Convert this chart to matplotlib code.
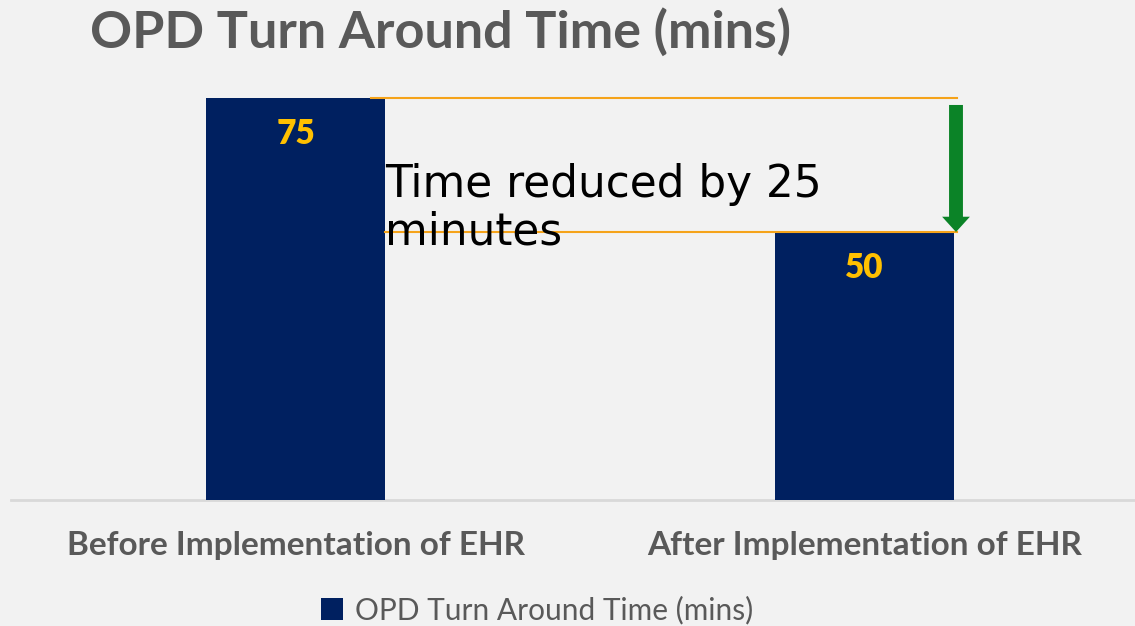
import matplotlib
matplotlib.use("Agg")
import matplotlib.pyplot as plt
from matplotlib.patches import Patch

categories = ["Before Implementation of EHR", "After Implementation of EHR"]
values = [75, 50]
series_name = "OPD Turn Around Time (mins)"
title = "OPD Turn Around Time (mins)"
note_lines = ["Time reduced by 25", "minutes"]

BG = "#F2F2F2"
NAVY = "#002060"
GOLD = "#FFC000"
GREY = "#595959"
ORANGE = "#F5A31A"
GREEN = "#0B8327"

fig = plt.figure(figsize=(11.35, 6.26), dpi=100, facecolor=BG)
W, H = 1135, 626
ax = fig.add_axes([11 / W, (H - 500) / H, (1135 - 11) / W, 430 / H])
ax.set_facecolor(BG)

x = list(range(len(categories)))
bw = 179 / 569
bars = ax.bar(x, values, width=bw, color=NAVY, zorder=3)
ax.set_xlim(-0.5, 1 + (1135 - 864.5) / 569)
ax.set_ylim(0, 430 / 5.36)

for xi, v in zip(x, values):
    ax.text(xi, v - 6.8, f"{v}", ha="center", va="center", color=GOLD,
            fontsize=24, fontweight="heavy", family="Lato", zorder=4)

# guide lines and arrow
x_end = 1 + (957 - 864.5) / 569
ax.plot([x[0] + bw / 2 - 0.025, x_end], [values[0], values[0]], color=ORANGE, lw=1.5, zorder=5)
ax.plot([x[0] + bw / 2, x_end], [values[1], values[1]], color=ORANGE, lw=1.5, zorder=5)
arr_x = 1 + (956 - 864.5) / 569
ax.annotate("", xy=(arr_x, values[1]), xytext=(arr_x, values[0] - 1.3),
            arrowprops=dict(width=10, headwidth=20, headlength=11, shrink=0,
                            color=GREEN, lw=0), zorder=6)

ax.text(x[0] + bw / 2, 56.5, note_lines[0], ha="left", va="baseline", fontsize=31.5,
        color="black", family="DejaVu Sans", zorder=7)
ax.text(x[0] + bw / 2, 47.6, note_lines[1], ha="left", va="baseline", fontsize=31.5,
        color="black", family="DejaVu Sans", zorder=7)

for s in ["top", "right", "left"]:
    ax.spines[s].set_visible(False)
ax.spines["bottom"].set_color("#D9D9D9")
ax.spines["bottom"].set_linewidth(2)
ax.set_yticks([])
ax.set_xticks(x)
ax.set_xticklabels(categories, fontsize=24, fontweight="bold", color=GREY, family="Lato")
ax.tick_params(axis="x", length=0, pad=22)

fig.text(90 / W, 1 - 32 / H, title, ha="left", va="center", fontsize=37.5,
         fontweight="bold", color=GREY, family="Lato")

leg = fig.legend(handles=[Patch(facecolor=NAVY, label=series_name)], loc="center",
                 bbox_to_anchor=(537 / W, 1 - 610 / H), frameon=False,
                 prop=dict(family="Lato", size=21.5), handlelength=0.75, handleheight=0.75,
                 handletextpad=0.4)
for t in leg.get_texts():
    t.set_color(GREY)

fig.savefig("out.png", dpi=100, facecolor=BG)
